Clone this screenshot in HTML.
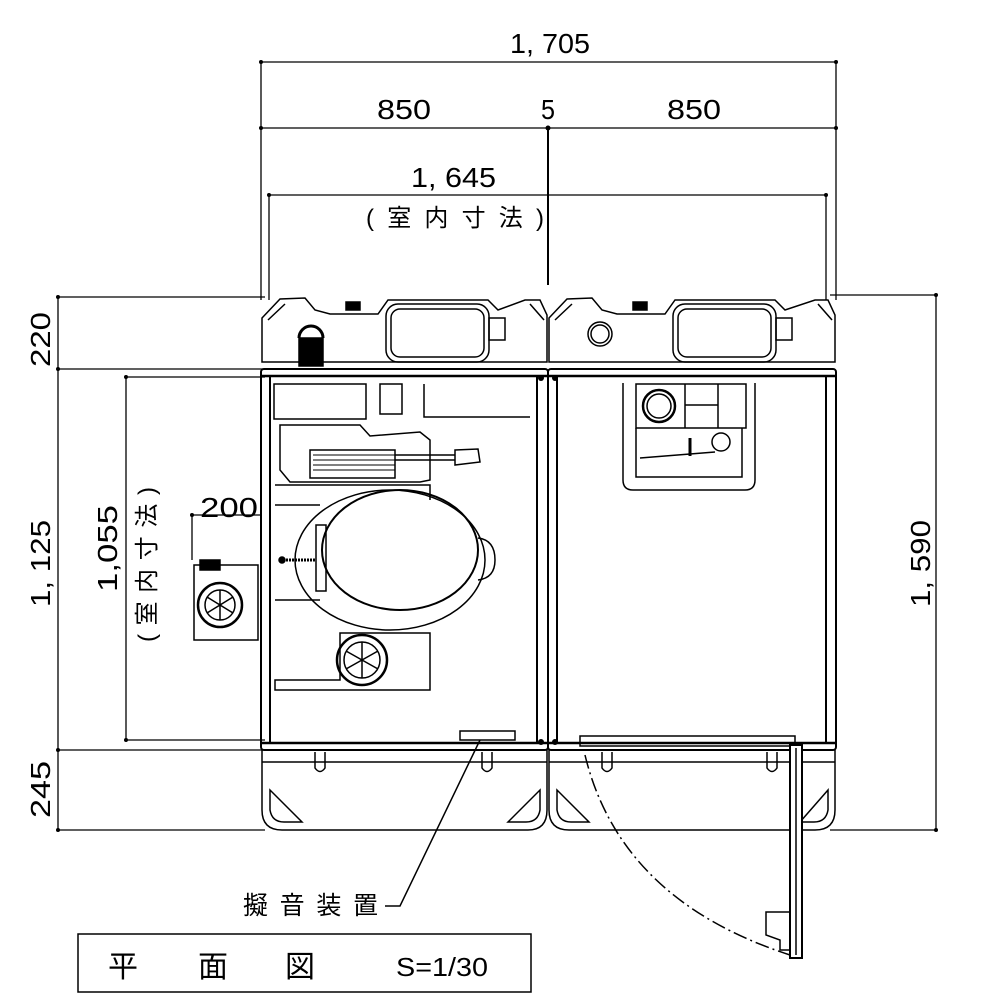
<!DOCTYPE html>
<html><head><meta charset="utf-8"><style>
html,body{margin:0;padding:0;background:#fff;}
svg{display:block}
text{font-family:"Liberation Sans","Noto Sans CJK JP",sans-serif;fill:#000}
</style></head><body>
<svg width="1000" height="1000" viewBox="0 0 1000 1000" xmlns="http://www.w3.org/2000/svg">
<g stroke="#000" fill="none" stroke-width="1.3">
<line x1="261" y1="62" x2="836" y2="62"/>
<line x1="261" y1="128" x2="836" y2="128"/>
<line x1="269" y1="195" x2="826" y2="195"/>
<line x1="261" y1="62" x2="261" y2="300"/>
<line x1="836" y1="62" x2="836" y2="300"/>
<line x1="269" y1="195" x2="269" y2="300"/>
<line x1="826" y1="195" x2="826" y2="300"/>
<line x1="548" y1="128" x2="548" y2="285" stroke-width="2"/>
<line x1="58" y1="297" x2="58" y2="830"/>
<line x1="58" y1="297" x2="265" y2="297"/>
<line x1="58" y1="369" x2="265" y2="369"/>
<line x1="58" y1="750" x2="265" y2="750"/>
<line x1="58" y1="830" x2="265" y2="830"/>
<line x1="126" y1="377" x2="126" y2="740"/>
<line x1="126" y1="377" x2="265" y2="377"/>
<line x1="126" y1="740" x2="265" y2="740"/>
<line x1="192" y1="515" x2="260" y2="515"/>
<line x1="192" y1="515" x2="192" y2="560"/>
<line x1="936" y1="295" x2="936" y2="830"/>
<line x1="830" y1="295" x2="936" y2="295"/>
<line x1="830" y1="830" x2="936" y2="830"/>
</g>
<g fill="#000">
<circle cx="261" cy="62" r="2"/><circle cx="836" cy="62" r="2"/>
<circle cx="261" cy="128" r="2"/><circle cx="548" cy="128" r="2.5"/><circle cx="836" cy="128" r="2"/>
<circle cx="269" cy="195" r="2"/><circle cx="826" cy="195" r="2"/>
<circle cx="58" cy="297" r="2"/><circle cx="58" cy="369" r="2"/><circle cx="58" cy="750" r="2"/><circle cx="58" cy="830" r="2"/>
<circle cx="126" cy="377" r="2"/><circle cx="126" cy="740" r="2"/>
<circle cx="192" cy="515" r="2"/>
<circle cx="936" cy="295" r="2"/><circle cx="936" cy="830" r="2"/>
</g>
<g font-size="28" lengthAdjust="spacingAndGlyphs">
<text x="510" y="53" textLength="80" lengthAdjust="spacingAndGlyphs">1, 705</text>
<text x="377" y="119" textLength="54" lengthAdjust="spacingAndGlyphs">850</text>
<text x="541" y="119" textLength="14" lengthAdjust="spacingAndGlyphs">5</text>
<text x="667" y="119" textLength="54" lengthAdjust="spacingAndGlyphs">850</text>
<text x="411" y="187" textLength="85" lengthAdjust="spacingAndGlyphs">1, 645</text>
<text x="366" y="226" font-size="24" textLength="178" lengthAdjust="spacing">(室内寸法)</text>
<text x="200" y="517" textLength="58" lengthAdjust="spacingAndGlyphs">200</text>
<text transform="translate(50,367) rotate(-90)" textLength="55" lengthAdjust="spacingAndGlyphs">220</text>
<text transform="translate(50,607) rotate(-90)" textLength="87" lengthAdjust="spacingAndGlyphs">1, 125</text>
<text transform="translate(117,592) rotate(-90)" textLength="87" lengthAdjust="spacingAndGlyphs">1,055</text>
<text transform="translate(155,642) rotate(-90)" font-size="24" textLength="155" lengthAdjust="spacing">(室内寸法)</text>
<text transform="translate(50,818) rotate(-90)" textLength="57" lengthAdjust="spacingAndGlyphs">245</text>
<text transform="translate(930,607) rotate(-90)" textLength="87" lengthAdjust="spacingAndGlyphs">1, 590</text>
</g>

<g stroke="#000" fill="none" stroke-width="1.5">
<path d="M262,318 L280,299 L305,298 L315,310 L330,314 L378,314 L388,300 L488,300 L498,310 L525,300 L540,300 L547,315 L547,362 L262,362 Z"/>
<path d="M268,320 L285,304 M530,304 L544,320"/>
<rect x="386" y="304" width="103" height="58" rx="12"/>
<rect x="391" y="309" width="93" height="48" rx="9"/>
<rect x="489" y="318" width="16" height="22"/>
<rect x="346" y="302" width="14" height="8" fill="#000"/>
<path d="M299,338 A12,12 0 0 1 323,338" stroke-width="3"/>
<rect x="299" y="338" width="24" height="28" fill="#000"/>
<rect x="261" y="369" width="287" height="381" rx="3" stroke-width="2"/>
<line x1="262" y1="376" x2="547" y2="376" stroke-width="2.5"/>
<line x1="262" y1="743" x2="547" y2="743" stroke-width="2.5"/>
<line x1="270" y1="376" x2="270" y2="743" stroke-width="2"/>
<line x1="537" y1="376" x2="537" y2="743" stroke-width="2"/>
<rect x="274" y="384" width="92" height="35"/>
<rect x="380" y="384" width="22" height="30"/>
<path d="M424,384 L424,417 L530,417"/>
<path d="M280,425 L360,425 L370,436 L420,432 L430,440 L430,480 L420,482 L290,482 L280,470 Z"/>
<rect x="310" y="450" width="85" height="28"/>
<g stroke-width="1">
<line x1="313" y1="455" x2="395" y2="455"/><line x1="313" y1="460" x2="395" y2="460"/>
<line x1="313" y1="465" x2="395" y2="465"/><line x1="313" y1="470" x2="395" y2="470"/>
</g>
<line x1="395" y1="455" x2="455" y2="455"/><line x1="395" y1="460" x2="455" y2="460"/>
<path d="M455,450 L478,449 L480,462 L455,465 Z"/>
<path d="M275,485 L430,485 L430,500 M275,505 L320,505"/>
<path d="M275,600 L320,600"/>
<ellipse cx="390" cy="560" rx="95" ry="70"/>
<ellipse cx="400" cy="550" rx="78" ry="60" stroke-width="2"/>
<rect x="316" y="525" width="10" height="66"/>
<line x1="280" y1="560" x2="316" y2="560" stroke-width="3" stroke-dasharray="2,1"/>
<circle cx="282" cy="560" r="3" fill="#000"/>
<path d="M478,538 Q495,540 495,560 Q495,578 478,580"/>
<path d="M340,633 L430,633 L430,690 L275,690 L275,680 L340,680 Z"/>
<circle cx="362" cy="660" r="25" stroke-width="2.5"/>
<circle cx="362" cy="660" r="18"/>
<path d="M362,642 L362,678 M346,651 L378,669 M346,669 L378,651"/>
<rect x="460" y="731" width="55" height="9"/>
<rect x="194" y="565" width="64" height="75"/>
<circle cx="220" cy="605" r="22" stroke-width="2.5"/>
<circle cx="220" cy="605" r="15"/>
<path d="M220,590 L220,620 M207,597 L233,613 M207,613 L233,597"/>
<rect x="200" y="560" width="20" height="10" fill="#000"/>
<path d="M262,750 L262,810 Q262,830 282,830 L528,830 Q547,830 547,810 L547,750"/>
<line x1="262" y1="762" x2="547" y2="762"/>
<path d="M270,790 L270,810 Q272,822 284,822 L302,822 Z"/>
<path d="M540,790 L540,810 Q538,822 526,822 L508,822 Z"/>
<path d="M315,752 L315,768 Q320,775 325,768 L325,752"/>
<path d="M482,752 L482,768 Q487,775 492,768 L492,752"/>

<path d="M549,318 L567,299 L592,298 L602,310 L617,314 L665,314 L675,300 L775,300 L785,310 L815,300 L828,300 L835,315 L835,362 L549,362 Z"/>
<path d="M555,320 L572,304 M818,304 L832,320"/>
<rect x="673" y="304" width="103" height="58" rx="12"/>
<rect x="678" y="309" width="93" height="48" rx="9"/>
<rect x="776" y="318" width="16" height="22"/>
<rect x="633" y="302" width="14" height="8" fill="#000"/>
<circle cx="600" cy="334" r="12"/><circle cx="600" cy="334" r="9"/>
<rect x="548" y="369" width="288" height="381" rx="3" stroke-width="2"/>
<line x1="549" y1="376" x2="835" y2="376" stroke-width="2.5"/>
<line x1="549" y1="743" x2="835" y2="743" stroke-width="2.5"/>
<line x1="557" y1="376" x2="557" y2="743" stroke-width="2"/>
<line x1="826" y1="376" x2="826" y2="743" stroke-width="2"/>
<path d="M623,383 L623,480 Q623,490 633,490 L745,490 Q755,490 755,480 L755,383"/>
<rect x="636" y="384" width="110" height="44"/>
<circle cx="659" cy="406" r="16" stroke-width="2.5"/>
<circle cx="659" cy="406" r="12"/>
<line x1="685" y1="384" x2="685" y2="428"/>
<path d="M685,405 L718,405 M718,384 L718,428"/>
<path d="M636,428 L636,477 L742,477 L742,428"/>
<circle cx="721" cy="442" r="9"/>
<line x1="640" y1="458" x2="715" y2="452"/>
<line x1="690" y1="438" x2="690" y2="456" stroke-width="3"/>
<path d="M549,750 L549,810 Q549,830 569,830 L815,830 Q835,830 835,810 L835,750"/>
<line x1="549" y1="762" x2="835" y2="762"/>
<path d="M557,790 L557,810 Q559,822 571,822 L589,822 Z"/>
<path d="M828,790 L828,810 Q826,822 814,822 L800,822 Z"/>
<path d="M602,752 L602,768 Q607,775 612,768 L612,752"/>
<path d="M767,752 L767,768 Q772,775 777,768 L777,752"/>
<rect x="580" y="736" width="215" height="10"/>
<rect x="790" y="745" width="12" height="213" fill="#fff" stroke-width="2"/>
<line x1="796" y1="748" x2="796" y2="955"/>
<path d="M790,912 L766,912 L766,935 L780,940 L780,950 L790,950"/>
<path d="M585,755 Q620,900 790,955" stroke-dasharray="14,4,2,4"/>
<path d="M385,906 L400,906 L480,740"/>
</g>
<g fill="#000">
<circle cx="541" cy="378" r="3"/><circle cx="555" cy="378" r="3"/>
<circle cx="541" cy="742" r="3"/><circle cx="555" cy="742" r="3"/>
</g>
<text x="243" y="914" font-size="25" textLength="135" lengthAdjust="spacing">擬音装置</text>
<rect x="78" y="934" width="453" height="58" fill="none" stroke="#000" stroke-width="1.5"/>
<text x="108" y="977" font-size="30">平</text>
<text x="198" y="977" font-size="30">面</text>
<text x="285" y="977" font-size="30">図</text>
<text x="396" y="976" font-size="26" textLength="92" lengthAdjust="spacingAndGlyphs">S=1/30</text>
</svg>
</body></html>
